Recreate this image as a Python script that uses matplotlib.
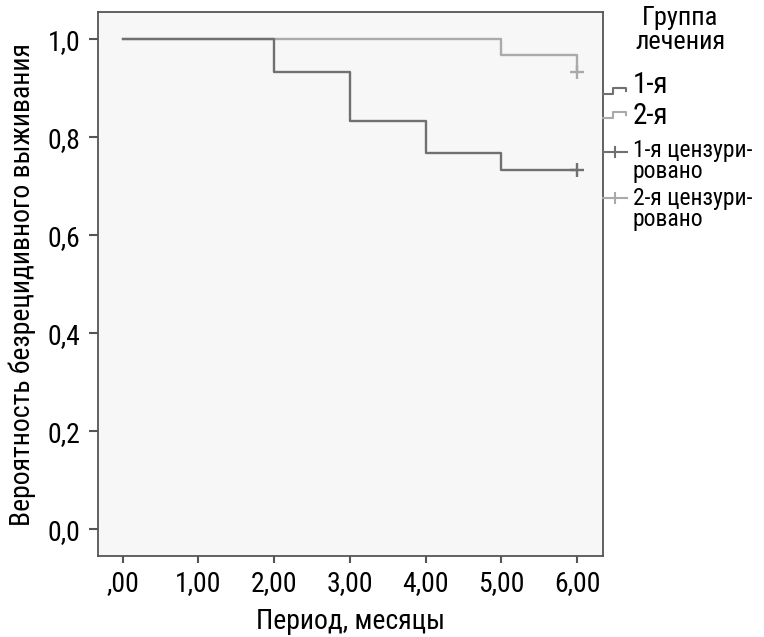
import matplotlib
matplotlib.use("Agg")
import matplotlib.pyplot as plt

# Kaplan-Meier steps
months = [0, 1, 2, 3, 4, 5, 6]
tick_labels = [",00", "1,00", "2,00", "3,00", "4,00", "5,00", "6,00"]
yticks = [0.0, 0.2, 0.4, 0.6, 0.8, 1.0]
ytick_labels = ["0,0", "0,2", "0,4", "0,6", "0,8", "1,0"]

g1_time = [0, 2, 3, 4, 5, 6]
g1_surv = [1.0, 0.933, 0.833, 0.767, 0.733, 0.733]
g2_time = [0, 5, 6]
g2_surv = [1.0, 0.967, 0.933]
g1_cens = (6, 0.733)
g2_cens = (6, 0.933)

legend_title = "Группа\nлечения"
legend_labels = ["1-я", "2-я", "1-я цензури-\nровано", "2-я цензури-\nровано"]

c1 = "#707070"
c2 = "#aaaaaa"

plt.rcParams["font.family"] = ["Roboto Condensed", "Roboto", "DejaVu Sans"]

fig = plt.figure(figsize=(7.64, 6.37), dpi=100)
ax = fig.add_axes([0.128, 0.127, 0.661, 0.854])
ax.set_facecolor("#f7f7f8")

ax.step(g2_time, g2_surv, where="post", color=c2, lw=1.7)
ax.step(g1_time, g1_surv, where="post", color=c1, lw=1.7)
ax.plot(*g2_cens, marker="+", ms=10, mew=1.7, color=c2)
ax.plot(*g1_cens, marker="+", ms=10, mew=1.7, color=c1)

ax.set_xlim(-0.33, 6.34)
ax.set_ylim(-0.055, 1.055)
ax.set_xticks(months)
ax.set_xticklabels(tick_labels)
ax.set_yticks(yticks)
ax.set_yticklabels(ytick_labels)
ax.tick_params(labelsize=20, width=1.5, color="#555555")
ax.tick_params(axis="x", length=5, pad=5)
ax.tick_params(axis="y", length=6.5, pad=6)
for s in ax.spines.values():
    s.set_color("#555555")
    s.set_linewidth(1.3)
ax.set_xlabel("Период, месяцы", fontsize=20, labelpad=8)
ax.set_ylabel("Вероятность безрецидивного выживания", fontsize=20, labelpad=8)


def px(x, y):
    return x / 764, 1 - y / 637


# legend drawn outside the right spine
fig.text(*px(680, 30), legend_title, fontsize=19, ha="center", va="center",
         linespacing=1.05)

# (symbol y, text y, colour, kind, font size)
rows = [(94, 85, c1, "step", 21), (118, 116, c2, "step", 21),
        (152, 161, c1, "cross", 17), (198, 209, c2, "cross", 17)]
for (y, ty, col, kind, fs), lab in zip(rows, legend_labels):
    if kind == "step":
        xs = [603, 613, 613, 626, 626]
        ys = [y, y, y - 6, y - 6, y - 3]
    else:
        xs = [603, 627]
        ys = [y, y]
    pts = [px(a, b) for a, b in zip(xs, ys)]
    fig.add_artist(plt.Line2D([p[0] for p in pts], [p[1] for p in pts], color=col, lw=1.5))
    if kind == "cross":
        fig.add_artist(plt.Line2D([px(615, 0)[0]] * 2, [px(0, y - 5)[1], px(0, y + 5)[1]],
                                  color=col, lw=1.5))
    fig.text(*px(633, ty), lab, fontsize=fs, ha="left", va="center", linespacing=0.85)

fig.savefig("out.png", dpi=100)
